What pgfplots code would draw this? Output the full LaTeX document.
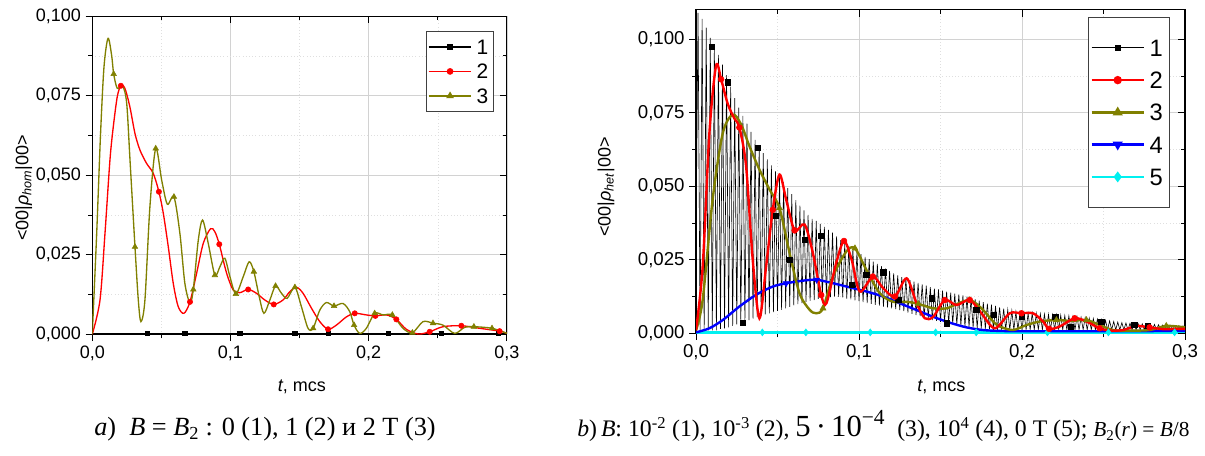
\documentclass[border=0pt]{standalone}
\usepackage{pgfplots}
\pgfplotsset{compat=1.18}
\usepackage{fontspec}
\setmainfont{Liberation Sans}
\newfontfamily\serif{Liberation Serif}
\definecolor{olv}{RGB}{128,128,0}
\definecolor{cyn}{RGB}{0,240,240}
\pgfplotsset{
  base/.style={scale only axis, xmin=0, xmax=0.3, ymin=0, scaled ticks=false,
    xtick={0,0.1,0.2,0.3}, minor xtick={0.05,0.15,0.25},
    ytick={0,0.025,0.05,0.075,0.1}, minor ytick={0.0125,0.0375,0.0625,0.0875},
    major tick length=5pt, minor tick length=3pt,
    tick style={black, line width=0.7pt}},
  main/.style={base, axis line style={line width=0.8pt},
    tick align=outside, tick pos=left, grid=both,
    major grid style={gray!35, line width=0.5pt},
    minor grid style={gray!25, dotted, line width=0.4pt},
    xticklabels={{0,0},{0,1},{0,2},{0,3}},
    yticklabels={{0,000},{0,025},{0,050},{0,075},{0,100}},
    ticklabel style={font=\fontsize{13.5}{16}\selectfont},
    label style={font=\fontsize{13.5}{16}\selectfont},
    legend cell align=left,
    legend image code/.code={\draw[mark repeat=2,mark phase=2,#1] plot coordinates {(0pt,0pt) (16pt,0pt) (32pt,0pt)};}},
  over/.style={base, tick align=inside, tick pos=right, axis line style={draw=none},
    xticklabels={}, yticklabels={}},
}
\begin{document}
\begin{tikzpicture}[x=1pt,y=1pt]
\useasboundingbox (0,0) rectangle (903.75,341.25);
% ---------------- left panel ----------------
\begin{axis}[main, at={(69.2pt,90.5pt)}, anchor=south west, width=311pt, height=238.7pt, ymax=0.1,
  xlabel={\textit{t}, mcs}, ylabel={<00|\textit{ρ}\textsubscript{\textit{hom}}|00>},
  xlabel style={at={(axis description cs:0.5057,-0.165)}, anchor=center},
  ylabel style={at={(axis description cs:-0.165,0.46)}, anchor=center, rotate=0},
  legend style={at={(0.9687,0.953)}, anchor=north east, draw=black!75, line width=0.6pt,
    font=\fontsize{15.7}{18}\selectfont, row sep=7.2pt, inner xsep=1pt, inner ysep=6pt,
    nodes={inner xsep=3pt, inner ysep=0pt, text height=11.2pt, text depth=0pt}}]
\addlegendimage{black, line width=1.8pt, mark=square*, mark size=1.6pt}
\addlegendentry{1}
\addlegendimage{red, line width=1pt, mark=*, mark size=2pt}
\addlegendentry{2}
\addlegendimage{olv, line width=1pt, mark=triangle*, mark size=2.4pt}
\addlegendentry{3}
% series 1
\addplot[black, line width=1.8pt, forget plot] coordinates {(0,0.0002)(0.3,0.0002)};
\addplot[black, only marks, mark=square*, mark size=1.6pt, forget plot] coordinates {
(0.04,0.0003)(0.067,0.0003)(0.1067,0.0003)(0.1465,0.0003)(0.171,0.0003)(0.214,0.0003)(0.2525,0.0003)(0.2935,0.0003)};
% series 2
\addplot[red, line width=1pt, smooth, forget plot] coordinates {
(0,0)(0.0056,0.0108)(0.0092,0.0317)(0.0128,0.0548)(0.0152,0.0652)(0.0181,0.0747)(0.0207,0.0781)(0.0236,0.0773)
(0.0272,0.0715)(0.0309,0.0631)(0.0345,0.0579)(0.0393,0.0537)(0.0441,0.0506)(0.0482,0.0448)(0.0514,0.038)
(0.055,0.0275)(0.0586,0.016)(0.0622,0.0087)(0.0663,0.0066)(0.0707,0.0102)(0.0755,0.0192)(0.0803,0.0286)
(0.0856,0.0332)(0.0887,0.0322)(0.0919,0.0283)(0.0972,0.0192)(0.102,0.0139)(0.1068,0.0131)(0.1128,0.0141)
(0.1188,0.0129)(0.1248,0.0108)(0.1313,0.0094)(0.138,0.0108)(0.1429,0.0134)(0.1477,0.0148)(0.1525,0.0129)
(0.1586,0.0082)(0.1646,0.004)(0.1706,0.0016)(0.1766,0.0029)(0.1839,0.0055)(0.1899,0.0066)(0.1983,0.0061)
(0.2048,0.0058)(0.2128,0.0061)(0.22,0.0047)(0.2272,0.0016)(0.2357,0.0001)(0.2441,0.0008)(0.2537,0.0024)
(0.267,0.0027)(0.2802,0.0019)(0.2947,0.001)(0.3,0.0003)};
\addplot[red, only marks, mark=*, mark size=2pt, forget plot] coordinates {
(0.0207,0.0781)(0.0482,0.0448)(0.0707,0.0102)(0.0919,0.0283)(0.1128,0.0141)(0.1313,0.0094)(0.1706,0.0016)
(0.1899,0.0066)(0.2048,0.0058)(0.22,0.0047)(0.2441,0.0008)(0.267,0.0027)(0.2947,0.001)};
% series 3
\addplot[olv, line width=1pt, smooth, forget plot] coordinates {
(0,0)(0.0032,0.0317)(0.006,0.0631)(0.0085,0.0841)(0.0114,0.093)(0.014,0.0877)(0.0155,0.0818)(0.0181,0.0773)
(0.022,0.078)(0.0249,0.0726)(0.0273,0.0548)(0.0309,0.0275)(0.0333,0.0108)(0.0352,0.004)(0.0381,0.0108)
(0.0417,0.0401)(0.0459,0.0584)(0.0502,0.0485)(0.0543,0.0409)(0.0591,0.0432)(0.0634,0.0317)(0.067,0.016)
(0.0707,0.0099)(0.0731,0.0141)(0.0767,0.0296)(0.0798,0.0359)(0.0839,0.0286)(0.0887,0.0186)(0.0923,0.0212)
(0.0959,0.0239)(0.0996,0.0181)(0.1039,0.0127)(0.1092,0.0181)(0.1135,0.0228)(0.1169,0.0197)(0.1208,0.0118)
(0.1242,0.0066)(0.1285,0.0108)(0.1326,0.0152)(0.1369,0.0129)(0.141,0.0113)(0.1466,0.0148)(0.1513,0.0087)
(0.1561,0.0019)(0.1598,0.0019)(0.1646,0.0076)(0.1694,0.01)(0.1749,0.0089)(0.1814,0.0097)(0.1863,0.0071)
(0.1894,0.0029)(0.1935,0.0003)(0.1983,0.0019)(0.2043,0.0066)(0.2104,0.0061)(0.2171,0.0061)(0.2248,0.0019)
(0.2316,0.0005)(0.2393,0.004)(0.2465,0.0035)(0.2537,0.0029)(0.2622,0.0003)(0.2694,0.0022)(0.2761,0.0024)
(0.2892,0.0019)(0.3,0.0003)};
\addplot[olv, only marks, mark=triangle*, mark size=2.4pt, forget plot] coordinates {
(0.0155,0.0818)(0.0309,0.0275)(0.0459,0.0584)(0.0591,0.0432)(0.0731,0.0141)(0.0887,0.0186)(0.1039,0.0127)
(0.1169,0.0197)(0.1326,0.0152)(0.1466,0.0148)(0.1598,0.0019)(0.1749,0.0089)(0.1894,0.0029)(0.2043,0.0066)
(0.2171,0.0061)(0.2316,0.0005)(0.2465,0.0035)(0.2761,0.0024)(0.2892,0.0019)};
\end{axis}
\begin{axis}[over, at={(69.2pt,90.5pt)}, anchor=south west, width=311pt, height=238.7pt, ymax=0.1]
\addplot[draw=none] coordinates {(0,0)};
\end{axis}
% ---------------- right panel ----------------
\begin{axis}[main, at={(522pt,91.3pt)}, anchor=south west, width=366.75pt, height=242.5pt, ymax=0.11,
  ticklabel style={font=\fontsize{14}{16}\selectfont},
  xlabel={\textit{t}, mcs}, ylabel={<00|\textit{ρ}\textsubscript{\textit{het}}|00>},
  xlabel style={at={(axis description cs:0.502,-0.165)}, anchor=center},
  ylabel style={at={(axis description cs:-0.184,0.4525)}, anchor=center, rotate=0},
  legend style={at={(0.969,0.978)}, anchor=north east, draw=black!75, line width=0.6pt,
    font=\fontsize{17.8}{20}\selectfont, row sep=11.4pt, inner xsep=1.5pt, inner ysep=16.4pt,
    nodes={inner xsep=3.5pt, inner ysep=0pt, text height=12.8pt, text depth=0pt}},
  legend image code/.code={\draw[mark repeat=2,mark phase=2,#1] plot coordinates {(0pt,0pt) (19.5pt,0pt) (39pt,0pt)};}]
\addlegendimage{black, line width=0.6pt, mark=square*, mark size=2pt}
\addlegendentry{1}
\addlegendimage{red, line width=1.8pt, mark=*, mark size=2.2pt}
\addlegendentry{2}
\addlegendimage{olv, line width=1.8pt, mark=triangle*, mark size=2.6pt}
\addlegendentry{3}
\addlegendimage{blue, line width=1.8pt, mark=triangle*, mark options={rotate=180}, mark size=2.6pt}
\addlegendentry{4}
\addlegendimage{cyn, line width=1.8pt, mark=diamond*, mark size=2.6pt}
\addlegendentry{5}
% series 1
\addplot[black, line width=0.45pt, forget plot] coordinates {
(0,0.03)(0.00125,0.109)(0.0025,0.001)(0.00375,0.107)(0.005,0.001)(0.00625,0.104)(0.0075,0.001)(0.00875,0.1005)(0.01,0.001)(0.01125,0.0976)(0.0125,0.001)(0.01375,0.0947)(0.015,0.0015)(0.01625,0.0914)(0.0175,0.0017)(0.01875,0.0878)(0.02,0.002)(0.02125,0.0839)(0.0225,0.0025)(0.02375,0.08)(0.025,0.003)(0.02625,0.0768)(0.0275,0.0035)(0.02875,0.074)(0.03,0.004)(0.03125,0.0713)(0.0325,0.0045)(0.03375,0.0685)(0.035,0.005)(0.03625,0.0658)(0.0375,0.0055)(0.03875,0.0635)(0.04,0.006)(0.04125,0.0613)(0.0425,0.0064)(0.04375,0.0592)(0.045,0.0068)(0.04625,0.0571)(0.0475,0.0072)(0.04875,0.0551)(0.05,0.0076)(0.05125,0.0533)(0.0525,0.008)(0.05375,0.0514)(0.055,0.0085)(0.05625,0.0494)(0.0575,0.009)(0.05875,0.0473)(0.06,0.0095)(0.06125,0.0453)(0.0625,0.0099)(0.06375,0.0434)(0.065,0.0103)(0.06625,0.0418)(0.0675,0.0107)(0.06875,0.0403)(0.07,0.011)(0.07125,0.0389)(0.0725,0.0113)(0.07375,0.0382)(0.075,0.0117)(0.07625,0.0372)(0.0775,0.012)(0.07875,0.0362)(0.08,0.0122)(0.08125,0.0352)(0.0825,0.0123)(0.08375,0.0342)(0.085,0.0125)(0.08625,0.033)(0.0875,0.0124)(0.08875,0.0317)(0.09,0.0122)(0.09125,0.0306)(0.0925,0.0118)(0.09375,0.0297)(0.095,0.0115)(0.09625,0.0288)(0.0975,0.0112)(0.09875,0.0278)(0.1,0.0109)(0.10125,0.0269)(0.1025,0.0106)(0.10375,0.026)(0.105,0.0103)(0.10625,0.0252)(0.1075,0.01)(0.10875,0.0244)(0.11,0.0097)(0.11125,0.0236)(0.1125,0.0094)(0.11375,0.0228)(0.115,0.0091)(0.11625,0.022)(0.1175,0.0088)(0.11875,0.0212)(0.12,0.0085)(0.12125,0.0204)(0.1225,0.0082)(0.12375,0.0197)(0.125,0.0079)(0.12625,0.0191)(0.1275,0.0075)(0.12875,0.0186)(0.13,0.007)(0.13125,0.0181)(0.1325,0.0066)(0.13375,0.0176)(0.135,0.0062)(0.13625,0.0171)(0.1375,0.0058)(0.13875,0.0166)(0.14,0.0053)(0.14125,0.0162)(0.1425,0.0049)(0.14375,0.0157)(0.145,0.0045)(0.14625,0.0152)(0.1475,0.0042)(0.14875,0.0149)(0.15,0.0039)(0.15125,0.0145)(0.1525,0.0037)(0.15375,0.0142)(0.155,0.0034)(0.15625,0.0138)(0.1575,0.0032)(0.15875,0.0135)(0.16,0.0029)(0.16125,0.0132)(0.1625,0.0027)(0.16375,0.0129)(0.165,0.0024)(0.16625,0.0125)(0.1675,0.0022)(0.16875,0.012)(0.17,0.002)(0.17125,0.0116)(0.1725,0.0018)(0.17375,0.0111)(0.175,0.0016)(0.17625,0.0106)(0.1775,0.0015)(0.17875,0.0101)(0.18,0.0013)(0.18125,0.0097)(0.1825,0.0012)(0.18375,0.0093)(0.185,0.0012)(0.18625,0.0088)(0.1875,0.0012)(0.18875,0.0084)(0.19,0.0012)(0.19125,0.008)(0.1925,0.0012)(0.19375,0.0077)(0.195,0.0012)(0.19625,0.0073)(0.1975,0.0012)(0.19875,0.007)(0.2,0.0012)(0.20125,0.0069)(0.2025,0.0012)(0.20375,0.0068)(0.205,0.0012)(0.20625,0.0068)(0.2075,0.0012)(0.20875,0.0067)(0.21,0.0012)(0.21125,0.0066)(0.2125,0.0012)(0.21375,0.0065)(0.215,0.0012)(0.21625,0.0064)(0.2175,0.0012)(0.21875,0.0063)(0.22,0.0012)(0.22125,0.0063)(0.2225,0.0012)(0.22375,0.0061)(0.225,0.0012)(0.22625,0.006)(0.2275,0.0012)(0.22875,0.0059)(0.23,0.0012)(0.23125,0.0057)(0.2325,0.0012)(0.23375,0.0056)(0.235,0.0012)(0.23625,0.0054)(0.2375,0.0012)(0.23875,0.0053)(0.24,0.0012)(0.24125,0.0051)(0.2425,0.0012)(0.24375,0.005)(0.245,0.0012)(0.24625,0.0048)(0.2475,0.0012)(0.24875,0.0046)(0.25,0.0012)(0.25125,0.0044)(0.2525,0.0012)(0.25375,0.0042)(0.255,0.0012)(0.25625,0.004)(0.2575,0.0012)(0.25875,0.0038)(0.26,0.0012)(0.26125,0.0036)(0.2625,0.0012)(0.26375,0.0035)(0.265,0.0012)(0.26625,0.0034)(0.2675,0.0012)(0.26875,0.0033)(0.27,0.0012)(0.27125,0.0032)(0.2725,0.0012)(0.27375,0.0032)(0.275,0.0012)(0.27625,0.0031)(0.2775,0.0012)(0.27875,0.003)(0.28,0.0012)(0.28125,0.003)(0.2825,0.0012)(0.28375,0.0029)(0.285,0.0012)(0.28625,0.0028)(0.2875,0.0012)(0.28875,0.0028)(0.29,0.0012)(0.29125,0.0027)(0.2925,0.0012)(0.29375,0.0026)(0.295,0.0012)(0.29625,0.0026)(0.2975,0.0012)(0.29875,0.0025)(0.3,0.0012)};
\addplot[black, only marks, mark=square*, mark size=2pt, forget plot] coordinates {
(0.0096,0.0975)(0.0194,0.0854)(0.0286,0.0036)(0.0377,0.0632)(0.0488,0.0399)(0.0575,0.0249)(0.0667,0.0317)
(0.0768,0.0332)(0.0957,0.0165)(0.1045,0.0199)(0.1148,0.0207)(0.124,0.0114)(0.1445,0.0119)(0.1537,0.0034)
(0.172,0.0079)(0.1825,0.0062)(0.2,0.0057)(0.2203,0.0057)(0.2298,0.0023)(0.2487,0.004)(0.2688,0.0028)(0.277,0.0025)};
% series 5
\addplot[cyn, line width=1.8pt, forget plot] coordinates {(0,0.0003)(0.3,0.0003)};
\addplot[cyn, only marks, mark=diamond*, mark size=2.6pt, forget plot] coordinates {
(0.0407,0.0003)(0.0674,0.0003)(0.1069,0.0003)(0.147,0.0003)(0.1719,0.0003)(0.2156,0.0003)(0.253,0.0003)(0.2936,0.0003)};
% series 4
\addplot[blue, line width=1.8pt, smooth, forget plot] coordinates {
(0,0.0003)(0.0082,0.0017)(0.0164,0.0045)(0.0266,0.0091)(0.0369,0.0131)(0.0471,0.0159)(0.0553,0.017)(0.0656,0.0179)
(0.074,0.0182)(0.0842,0.017)(0.0944,0.0156)(0.1046,0.0142)(0.1148,0.0125)(0.125,0.0102)(0.1353,0.0079)(0.1455,0.0056)
(0.1557,0.0036)(0.166,0.002)(0.1761,0.0011)(0.1864,0.0008)(0.2,0.0007)(0.25,0.0007)(0.3,0.0008)};
\addplot[blue, only marks, mark=triangle*, mark options={rotate=180}, mark size=2.6pt, forget plot] coordinates {
(0.0553,0.017)(0.074,0.0182)};
% series 3
\addplot[olv, line width=1.8pt, smooth, forget plot] coordinates {
(0,0.001)(0.0041,0.0114)(0.0102,0.0455)(0.0164,0.068)(0.0225,0.0744)(0.0277,0.071)(0.0328,0.0636)(0.0389,0.0557)
(0.0451,0.0489)(0.0512,0.0426)(0.0574,0.0273)(0.0635,0.0136)(0.0697,0.008)(0.0738,0.0068)(0.0779,0.0085)(0.084,0.0193)
(0.0922,0.0278)(0.0975,0.0289)(0.1046,0.0215)(0.1128,0.0136)(0.121,0.0107)(0.1292,0.0107)(0.1363,0.01)(0.1455,0.0085)
(0.1537,0.0085)(0.1598,0.0099)(0.168,0.0113)(0.1751,0.0085)(0.1823,0.004)(0.1864,0.0023)(0.1945,0.0011)(0.2027,0.0028)
(0.2109,0.004)(0.2211,0.0045)(0.2303,0.0042)(0.2395,0.0045)(0.2476,0.0028)(0.2558,0.0011)(0.266,0.0009)(0.2783,0.0011)
(0.2885,0.0025)(0.3,0.002)};
\addplot[olv, only marks, mark=triangle*, mark size=2.6pt, forget plot] coordinates {
(0.0512,0.0426)(0.0779,0.0085)(0.0975,0.0289)(0.1363,0.01)(0.168,0.0113)(0.2211,0.0045)(0.2395,0.0045)(0.2885,0.0025)};
% series 2
\addplot[red, line width=1.8pt, smooth, forget plot] coordinates {
(0,0.001)(0.0041,0.0227)(0.0082,0.068)(0.0123,0.091)(0.0154,0.0864)(0.0195,0.078)(0.0236,0.073)(0.0266,0.070)
(0.0307,0.057)(0.0348,0.025)(0.0389,0.0051)(0.043,0.0227)(0.0471,0.042)(0.0512,0.054)(0.0553,0.0455)(0.0605,0.035)
(0.0666,0.037)(0.0717,0.0273)(0.0768,0.013)(0.08,0.0102)(0.086,0.0239)(0.0908,0.0314)(0.0955,0.025)(0.1005,0.0142)
(0.1085,0.0193)(0.1147,0.0154)(0.122,0.0125)(0.1292,0.0187)(0.1353,0.0102)(0.1404,0.0051)(0.1455,0.0056)(0.1526,0.0113)
(0.1598,0.0096)(0.168,0.0113)(0.1751,0.0068)(0.1833,0.0017)(0.1925,0.0068)(0.1997,0.0068)(0.2068,0.0068)(0.2129,0.004)
(0.2166,0.0015)(0.2231,0.0023)(0.2323,0.0051)(0.2395,0.004)(0.2476,0.0017)(0.2538,0.0009)(0.262,0.0011)(0.2701,0.0025)
(0.2783,0.002)(0.2865,0.0014)(0.2947,0.0015)(0.3,0.0015)};
\addplot[red, only marks, mark=*, mark size=2.2pt, forget plot] coordinates {
(0.0154,0.0864)(0.0266,0.070)(0.0471,0.042)(0.0605,0.035)(0.0768,0.013)(0.0908,0.0314)(0.1085,0.0193)(0.122,0.0125)
(0.1526,0.0113)(0.168,0.0113)(0.1997,0.0068)(0.2166,0.0015)(0.2323,0.0051)(0.2476,0.0017)(0.2783,0.002)};
\end{axis}
\begin{axis}[over, at={(522pt,91.3pt)}, anchor=south west, width=366.75pt, height=242.5pt, ymax=0.11]
\addplot[draw=none] coordinates {(0,0)};
\end{axis}
% ---------------- captions ----------------
\node[anchor=base west, inner sep=0pt] at (70.5,15) {\serif\fontsize{19.7}{24}\selectfont \textit{a})\ \ \textit{B} = \textit{B}\textsubscript{2} : 0 (1), 1 (2) и 2 T (3)};
\node[anchor=base west, inner sep=0pt] at (432.75,13.7) {\serif\fontsize{17.8}{20}\selectfont \textit{b})\,\textit{B}: 10\textsuperscript{-2} (1), 10\textsuperscript{-3} (2), {\fontsize{23}{26}\selectfont 5\,·\,10\textsuperscript{−4}}\ \ (3), 10\textsuperscript{4} (4), 0 T (5);\ {\fontsize{16}{18}\selectfont \textit{B}\textsubscript{2}(\textit{r}) = \textit{B}/8}};
\end{tikzpicture}
\end{document}
